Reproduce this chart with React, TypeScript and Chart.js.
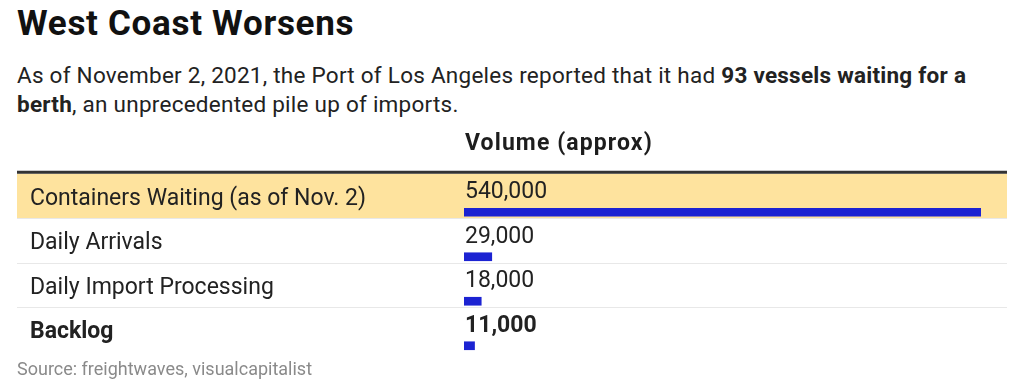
import React, { useEffect, useRef } from "react";
import { Chart, registerables } from "chart.js";

Chart.register(...registerables);

const title = "West Coast Worsens";
const columnHeader = "Volume (approx)";
const categories = [
  "Containers Waiting (as of Nov. 2)",
  "Daily Arrivals",
  "Daily Import Processing",
  "Backlog",
];
const volumes = [540000, 29000, 18000, 11000];
const highlightedRows = [true, false, false, false];
const boldRows = [false, false, false, true];
const xMax = 540000;
const sourceText = "Source: freightwaves, visualcapitalist";

const FONT = "Roboto, 'Noto Sans', 'DejaVu Sans', sans-serif";
const BAR_COLOR = "#1c23d2";
const HIGHLIGHT = "#fee39e";

export default function App() {
  const ref = useRef<HTMLCanvasElement | null>(null);

  useEffect(() => {
    if (!ref.current) return;
    const tablePlugin = {
      id: "tableRows",
      beforeDatasetsDraw(chart: any) {
        const { ctx } = chart;
        const y = chart.scales.y;
        const L = 17;
        const R = 1007;
        ctx.save();
        categories.forEach((_, i) => {
          const c = y.getPixelForValue(i);
          const top = c - 38.5;
          const bottom = c + 6;
          if (highlightedRows[i]) {
            ctx.fillStyle = HIGHLIGHT;
            ctx.fillRect(L, top, R - L, bottom - top);
          }
          if (i < categories.length - 1) {
            ctx.strokeStyle = "#e8e8e8";
            ctx.lineWidth = 1;
            const yy = Math.round(bottom) + 0.5;
            ctx.beginPath();
            ctx.moveTo(L, yy);
            ctx.lineTo(R, yy);
            ctx.stroke();
          }
        });
        const firstTop = y.getPixelForValue(0) - 38.5;
        ctx.fillStyle = "#333333";
        ctx.fillRect(L, firstTop - 3, R - L, 3);
        ctx.restore();
      },
      afterDatasetsDraw(chart: any) {
        const { ctx, chartArea } = chart;
        const y = chart.scales.y;
        const firstTop = y.getPixelForValue(0) - 38.5;
        ctx.save();
        ctx.textAlign = "left";
        ctx.textBaseline = "alphabetic";
        ctx.fillStyle = "#1d1d1d";
        ctx.font = `bold 23px ${FONT}`;
        (ctx as any).letterSpacing = "1.1px";
        ctx.fillText(columnHeader, chartArea.left + 1, firstTop - 23.5);
        (ctx as any).letterSpacing = "0px";
        categories.forEach((label, i) => {
          const c = y.getPixelForValue(i);
          ctx.fillStyle = "#222222";
          ctx.font = `${boldRows[i] ? "bold " : ""}23px ${FONT}`;
          ctx.fillText(label, 30, c - 7.75);
          ctx.fillText(volumes[i].toLocaleString("en-US"), chartArea.left + 1, c - 14);
        });
        ctx.restore();
      },
    };

    const chart = new Chart(ref.current, {
      type: "bar",
      data: {
        labels: categories,
        datasets: [
          {
            label: columnHeader,
            data: volumes,
            backgroundColor: BAR_COLOR,
            borderWidth: 0,
            barThickness: 8,
          },
        ],
      },
      options: {
        indexAxis: "y",
        responsive: false,
        animation: false,
        devicePixelRatio: 1,
        layout: { padding: { left: 464, right: 43, top: 70, bottom: 15 } },
        scales: {
          x: { display: false, min: 0, max: xMax },
          y: { display: false },
        },
        plugins: {
          legend: { display: false },
          title: { display: false },
          tooltip: { enabled: false },
        },
      },
      plugins: [tablePlugin],
    });
    return () => chart.destroy();
  }, []);

  return (
    <div
      style={{
        position: "absolute",
        left: 0,
        top: 0,
        width: 1024,
        height: 383,
        overflow: "hidden",
        background: "#ffffff",
        fontFamily: FONT,
      }}
    >
      <div
        style={{
          position: "absolute",
          left: 17,
          top: 4,
          fontSize: 35,
          lineHeight: "40px",
          fontWeight: 700,
          letterSpacing: "0.7px",
          color: "#111111",
          whiteSpace: "nowrap",
        }}
      >
        {title}
      </div>
      <div
        style={{
          position: "absolute",
          left: 17,
          top: 61.4,
          fontSize: 22.5,
          lineHeight: "28.4px",
          letterSpacing: "0.25px",
          color: "#222222",
          whiteSpace: "nowrap",
        }}
      >
        As of November 2, 2021, the Port of Los Angeles reported that it had{" "}
        <b>93 vessels waiting for a</b>
        <br />
        <b>berth</b>, an unprecedented pile up of imports.
      </div>
      <canvas
        ref={ref}
        width={1024}
        height={263}
        style={{ position: "absolute", left: 0, top: 120, width: 1024, height: 263 }}
      />
      <div
        style={{
          position: "absolute",
          left: 17,
          top: 357,
          fontSize: 18,
          lineHeight: "24px",
          color: "#8a8a8a",
          whiteSpace: "nowrap",
        }}
      >
        {sourceText}
      </div>
    </div>
  );
}
